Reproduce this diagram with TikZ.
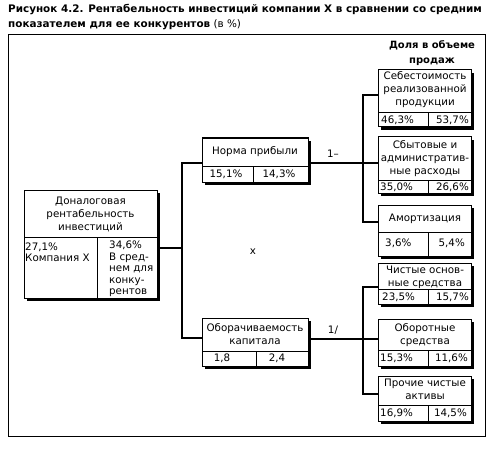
\documentclass[tikz,border=0pt]{standalone}
\usepackage{fontspec}
\setmainfont{DejaVu Sans}
\usetikzlibrary{shadows}
\tikzset{
  tb/.style={draw, line width=1pt, fill=white, inner sep=0pt, outer sep=0pt,
    drop shadow={shadow xshift=3pt, shadow yshift=-3pt, fill=black, opacity=1}},
  frm/.style={draw, line width=1pt, inner sep=0pt, outer sep=0pt},
  div/.style={line width=1pt},
  conn/.style={line width=2.8pt},
  txt/.style={inner sep=0pt, font=\fontsize{10.3}{13}\selectfont, align=center},
  cell/.style={inner sep=0pt, font=\fontsize{10.3}{11.5}\selectfont, align=left},
  ttl/.style={inner sep=0pt, anchor=west, font=\fontsize{10.4}{12}\selectfont},
  hdr/.style={inner sep=0pt, font=\fontsize{10}{14.5}\selectfont\bfseries, align=center}
}
\newcommand\tbox[7]{%
  \node[tb, anchor=north west, minimum width={#4-#2}, minimum height={#5-#3}] (#1) at (#2,#3) {};
  \draw[div] (#2,#6) -- (#4,#6) (#7,#6) -- (#7,#5);
}
\begin{document}
\begin{tikzpicture}[x=1pt,y=-1pt]
\useasboundingbox (0,0) rectangle (494,449);
% title
\node[ttl, font=\fontsize{10.4}{12}\selectfont\bfseries] (t1) at (8,10) {Рисунок 4.2. Рентабельность инвестиций компании X в сравнении со средним};
\node[ttl] (t2) at (8,25) {\textbf{показателем для ее конкурентов} (в \%)};
% frame
\node[frm, anchor=north west, minimum width=477, minimum height=401] (frame) at (8,35) {};
\node[hdr] (dolya) at (432,53) {Доля в объеме\\продаж};
% boxes
\tbox{main}{24}{190}{157}{298}{237}{97}
\tbox{norma}{202}{138}{308}{182}{166}{253}
\tbox{obor}{202}{318}{308}{366}{351}{256}
\tbox{b1}{378}{70}{471}{127}{113}{428}
\tbox{b2}{378}{137}{471}{193}{180}{428}
\tbox{b3}{378}{205}{471}{256}{232}{428}
\tbox{b4}{378}{263}{471}{304}{289}{428}
\tbox{b5}{378}{319}{471}{366}{350}{428}
\tbox{b6}{378}{376}{471}{421}{405}{428}
% texts
\node[txt] (mainT) at (90.5,214) {Доналоговая\\рентабельность\\инвестиций};
\node[cell, anchor=west] (mainL) at (25,252) {27,1\%\\Компания X};
\node[cell, anchor=west] (mainR) at (109,269) {34,6\%\\В сред-\\нем для\\конку-\\рентов};
\node[txt] (normaT) at (255,152) {Норма прибыли};
\node[txt] (normaL) at (226,174) {15,1\%};
\node[txt] (normaR) at (279,174) {14,3\%};
\node[txt] (oborT) at (255,334) {Оборачиваемость\\капитала};
\node[txt] (oborL) at (222,358) {1,8};
\node[txt] (oborR) at (277,358) {2,4};
\node[txt] (b1T) at (425,90) {Себестоимость\\реализованной\\продукции};
\node[txt, anchor=west] (b1L) at (381,120) {46,3\%};
\node[txt, anchor=east] (b1R) at (469,120) {53,7\%};
\node[txt] (b2T) at (425,159) {Сбытовые и\\административ-\\ные расходы};
\node[txt, anchor=west] (b2L) at (380,187) {35,0\%};
\node[txt, anchor=east] (b2R) at (469,187) {26,6\%};
\node[txt] (b3T) at (425,219) {Амортизация};
\node[txt, anchor=west] (b3L) at (385,243) {3,6\%};
\node[txt, anchor=east] (b3R) at (465,243) {5,4\%};
\node[txt] (b4T) at (425,277) {Чистые основ-\\ные средства};
\node[txt, anchor=west] (b4L) at (382,297) {23,5\%};
\node[txt, anchor=east] (b4R) at (469,297) {15,7\%};
\node[txt] (b5T) at (425,335) {Оборотные\\средства};
\node[txt, anchor=west] (b5L) at (380,358) {15,3\%};
\node[txt, anchor=east] (b5R) at (468,358) {11,6\%};
\node[txt] (b6T) at (425,389.5) {Прочие чистые\\активы};
\node[txt, anchor=west] (b6L) at (380,413) {16,9\%};
\node[txt, anchor=east] (b6R) at (467,413) {14,5\%};
% connectors
\coordinate (lm) at (182,248);
\coordinate (lt) at (182,163);
\coordinate (lb) at (182,338);
\coordinate (rt) at (363,95);
\coordinate (rb) at (363,222);
\coordinate (rt2) at (363,287);
\coordinate (rb2) at (363,394);
\coordinate (rm2) at (363,339);
\draw[conn] (lm -| main.east) -- (lm);
\draw[conn] (lt -| norma.west) -- (lt) -- (lb) -- (lb -| obor.west);
\draw[conn] (lt -| norma.east) -- (lt -| b2.west);
\draw[conn] (rt -| b1.west) -- (rt) -- (rb) -- (rb -| b3.west);
\draw[conn] (rm2 -| obor.east) -- (rm2 -| b5.west);
\draw[conn] (rt2 -| b4.west) -- (rt2) -- (rb2) -- (rb2 -| b6.west);
\node[txt] (lab1) at (333,154) {1–};
\node[txt] (lab2) at (333,330) {1/};
\node[txt] (labx) at (253,252) {x};
\end{tikzpicture}
\end{document}
